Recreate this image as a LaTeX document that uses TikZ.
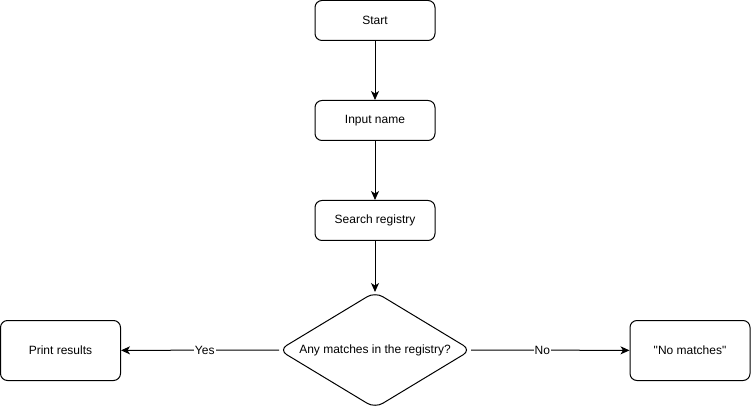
\documentclass[tikz,border=0pt]{standalone}
\usepackage{fontspec}
\setmainfont{Liberation Sans}[Ligatures=ResetAll]
\usetikzlibrary{arrows.meta,calc}
\newcommand{\sq}{\XeTeXglyph\XeTeXcharglyph"22\relax}
\begin{document}
\begin{tikzpicture}[x=1pt,y=-1pt,
  font=\fontsize{12}{14}\selectfont,
  every path/.style={line width=1pt},
  box/.style={draw, rounded corners=7pt, minimum width=120pt, minimum height=40pt, inner sep=0pt},
  bigbox/.style={box, minimum height=60pt},
  conn/.style={-{Stealth[length=9pt,width=8pt,inset=2.5pt]}},
  lbl/.style={fill=white, inner sep=1pt}]
\useasboundingbox (0,0) rectangle (751,411);
\node[box] (start) at (375,20.5) {Start};
\node[box] (input) at (375,120.5) {Input name};
\node[box] (search) at (375,220.5) {Search registry};
\coordinate (dT) at (375,292);
\coordinate (dR) at (471,350);
\coordinate (dB) at (375,408);
\coordinate (dL) at (279,350);
\draw[rounded corners=9pt] ($(dT)!0.5!(dR)$) -- (dR) -- (dB) -- (dL) -- (dT) -- cycle;
\node (dec) at (375,350) {Any matches in the registry?};
\node[bigbox] (print) at (60.5,350.5) {Print results};
\node[bigbox] (nom) at (690,350.5) {\sq No matches\sq};
\draw[conn] (start) -- (input);
\draw[conn] (input) -- (search);
\draw[conn] (search) -- (dT);
\draw[conn] (dL) -- node[lbl, pos=0.47] {Yes} (print);
\draw[conn] (dR) -- node[lbl, pos=0.45] {No} (nom);
\end{tikzpicture}
\end{document}
